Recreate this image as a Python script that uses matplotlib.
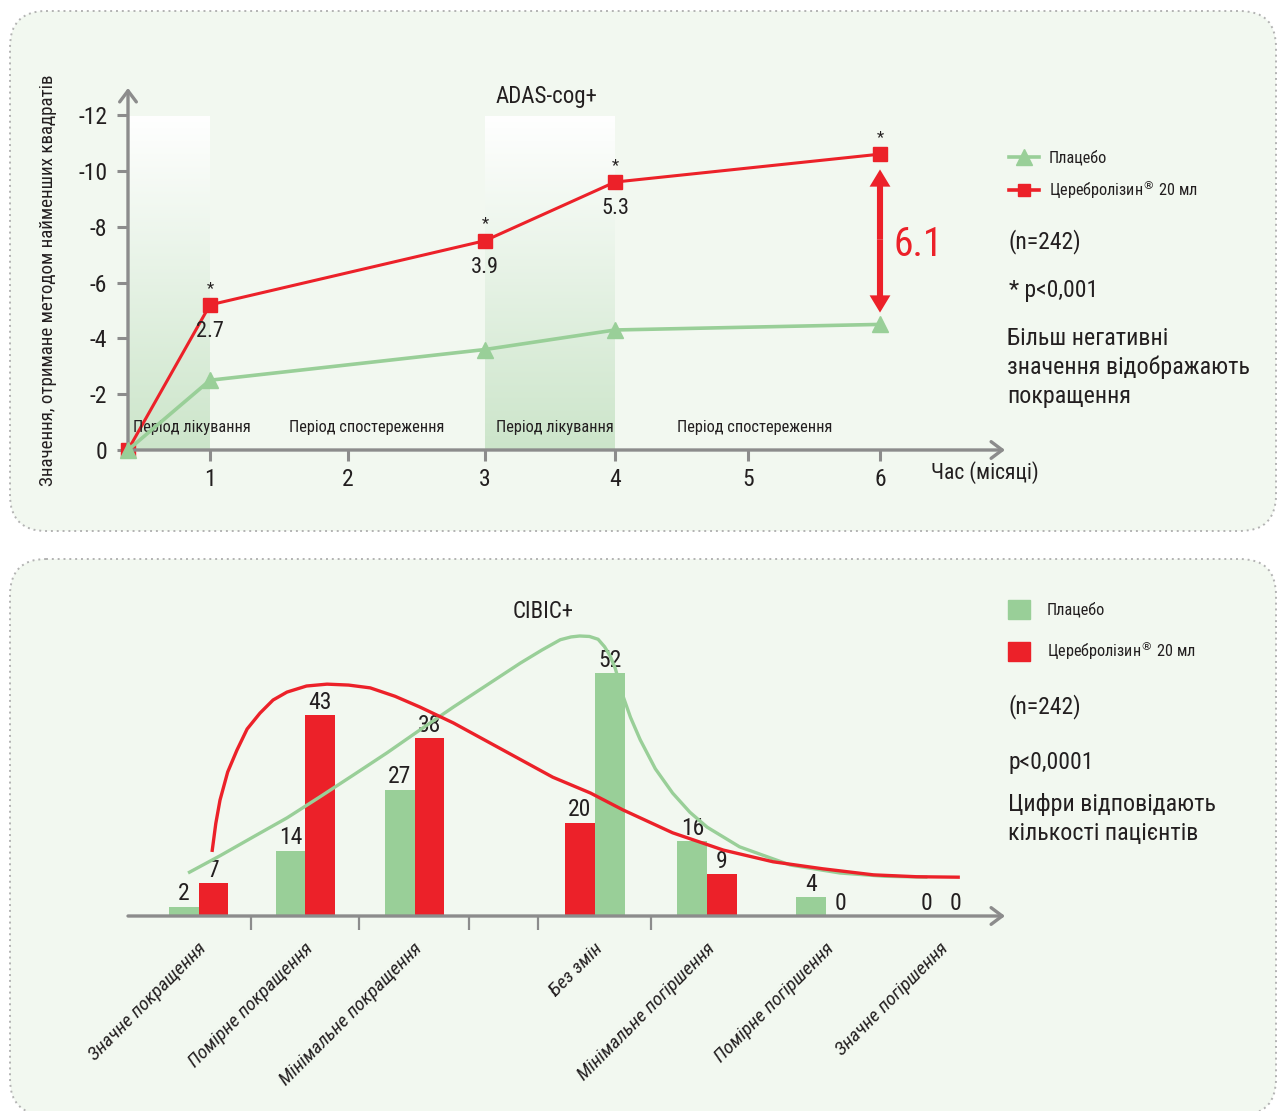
import numpy as np
import matplotlib
matplotlib.use('Agg')
import matplotlib.pyplot as plt
from matplotlib import font_manager as fm
from matplotlib.patches import FancyBboxPatch, Patch
from matplotlib.lines import Line2D
from matplotlib.colors import LinearSegmentedColormap

# вузький шрифт, якщо є; DejaVu Sans як запасний
installed = {f.name for f in fm.fontManager.ttflist}
families = [f for f in ['Roboto Condensed', 'Liberation Sans Narrow', 'Archivo Narrow'] if f in installed]
plt.rcParams['font.family'] = families + ['DejaVu Sans']
plt.rcParams['mathtext.fontset'] = 'dejavusans'

# --- ADAS-cog+ ---
months = [0, 1, 3, 4, 6]
placebo_adas = [0, -2.5, -3.6, -4.3, -4.5]
diff_adas = [0, 2.7, 3.9, 5.3, 6.1]          # різниця між групами
cerebro_adas = [p - d for p, d in zip(placebo_adas, diff_adas)]
signif = [False, True, True, True, True]
y_ticks = [0, -2, -4, -6, -8, -10, -12]
x_ticks = [1, 2, 3, 4, 5, 6]
treatment = [(0, 1), (3, 4)]
periods = [('Період лікування', 0.78), ('Період спостереження', 2.14),
           ('Період лікування', 3.54), ('Період спостереження', 5.05)]

# --- CIBIC+ ---
categories = ['Значне покращення', 'Помірне покращення', 'Мінімальне покращення', 'Без змін',
              'Мінімальне погіршення', 'Помірне погіршення', 'Значне погіршення']
placebo_cibic = [2, 14, 27, 52, 16, 4, 0]
cerebro_cibic = [7, 43, 38, 20, 9, 0, 0]

# тренд-криві (позиція групи, кількість)
red_curve_x = [0.125, 0.16, 0.199, 0.27, 0.356, 0.45, 0.569, 0.69, 0.819, 1.0, 1.19, 1.39, 1.59, 1.82,
               2.05, 2.36, 2.82, 3.28, 3.63, 3.93, 4.39, 4.86, 5.32, 5.78, 6.25, 6.65, 7.05]
red_curve_y = [13.7, 19.8, 24.8, 30.8, 35.5, 40.0, 43.4, 46.2, 47.9, 49.2, 49.6, 49.4, 48.8, 47.0,
               44.7, 41.3, 35.5, 29.7, 26.3, 22.7, 17.8, 14.1, 11.6, 10.1, 8.8, 8.4, 8.3]
green_curve_x = [-0.097, 0.2, 0.505, 0.82, 1.125, 1.43, 1.745, 2.05, 2.36, 2.67, 2.98, 3.18, 3.35,
                 3.45, 3.53, 3.62, 3.70, 3.76, 3.81, 3.86, 3.93, 4.0, 4.09, 4.23, 4.39, 4.55,
                 4.71, 5.01, 5.48, 5.94, 6.35, 6.75]
green_curve_y = [9.2, 12.9, 16.9, 21.0, 25.5, 30.1, 34.9, 39.8, 44.7, 49.4, 54.1, 56.9, 59.1,
                 59.7, 59.9, 59.8, 59.2, 57.6, 55.7, 52.9, 47.1, 42.5, 37.7, 31.5, 26.3, 22.2,
                 19.0, 14.8, 10.9, 9.2, 8.5, 8.3]

W, H = 1281, 1111
RED = '#ec2129'
GREEN = '#99cf98'
AXIS = '#8c8c8c'
TEXT = '#231f20'
PANEL = '#f2f8f0'


def fxy(x, y):
    return x / W, 1 - y / H


fig = plt.figure(figsize=(W / 100, H / 100), dpi=100)

# фонові панелі з пунктирною рамкою
bg = fig.add_axes([0, 0, 1, 1], zorder=-10)
bg.set_xlim(0, W)
bg.set_ylim(H, 0)
bg.axis('off')
for y0, h in [(11, 520), (559, 556)]:
    bg.add_patch(FancyBboxPatch((10, y0), 1266, h, boxstyle='round,pad=0,rounding_size=36',
                                facecolor=PANEL, edgecolor='#b3b3b3', lw=1.4,
                                linestyle=(0, (1, 2))))

# ---------------- верхній графік ----------------
# нерівномірна шкала часу: перший місяць коротший за решту
knot_m = [0, 1, 2, 3, 4, 5, 6, 7]
knot_u = [0, 0.82, 2.20, 3.57, 4.87, 6.20, 7.52, 8.84]


def fwd(m):
    return np.interp(m, knot_m, knot_u)


def inv(u):
    return np.interp(u, knot_u, knot_m)


ax1 = fig.add_axes([*fxy(128, 450), (1005 - 128) / W, (450 - 88) / H])
ax1.patch.set_visible(False)
ax1.set_xscale('function', functions=(fwd, inv))

shade = LinearSegmentedColormap.from_list('shade', ['#ffffff', '#cce5ca'])
grad = np.linspace(0, 1, 256).reshape(-1, 1)
for m0, m1 in treatment:
    ax1.imshow(grad, extent=(m0, m1, 0, -12), origin='upper', cmap=shade,
               aspect='auto', zorder=0, interpolation='bilinear')

ax1.set_xlim(0, inv(8.77))
ax1.set_ylim(0, -12.97)

ax1.plot(months, cerebro_adas, color=RED, lw=2.2, marker='s', ms=9.5, clip_on=False, zorder=3)
ax1.plot(months, placebo_adas, color=GREEN, lw=2.6, marker='^', ms=12, clip_on=False, zorder=4)

for m, r, d, s in zip(months, cerebro_adas, diff_adas, signif):
    if s:
        ax1.annotate('*', (m, r), xytext=(0, 12), textcoords='offset points',
                     ha='center', va='center', fontsize=12, color=TEXT)
    if s and m != months[-1]:
        ax1.annotate(f'{d:.1f}', (m, r), xytext=(0, -19), textcoords='offset points',
                     ha='center', va='center', fontsize=16, color=TEXT)

# подвійна стрілка з різницею на 6-му місяці
mid = (cerebro_adas[-1] + placebo_adas[-1]) / 2
arr = dict(arrowstyle='simple,head_length=0.62,head_width=0.75,tail_width=0.22',
           color=RED, lw=0, mutation_scale=20, shrinkA=0)
ax1.annotate('', xy=(months[-1], cerebro_adas[-1]), xytext=(months[-1], mid),
             arrowprops=dict(arr, shrinkB=11))
ax1.annotate('', xy=(months[-1], placebo_adas[-1]), xytext=(months[-1], mid),
             arrowprops=dict(arr, shrinkB=8.5))
ax1.annotate(f'{diff_adas[-1]:.1f}', (months[-1], mid), xytext=(10, -4), textcoords='offset points',
             ha='left', va='center', fontsize=28.5, color=RED)

for label, m in periods:
    ax1.text(m, -0.82, label, ha='center', va='center', fontsize=11.8, color=TEXT)

for s in ax1.spines.values():
    s.set_visible(False)
axis_arrow = dict(arrowstyle='->,head_length=0.4,head_width=0.3', color=AXIS, lw=2.4,
                  mutation_scale=20, shrinkA=0, shrinkB=0)
ax1.annotate('', xy=(1, 0), xytext=(0, 0), xycoords='axes fraction', arrowprops=axis_arrow)
ax1.annotate('', xy=(0, 1), xytext=(0, 0), xycoords='axes fraction', arrowprops=axis_arrow)

ax1.set_yticks(y_ticks)
ax1.set_yticklabels([str(v) for v in y_ticks])
ax1.set_xticks(x_ticks)
ax1.set_xticklabels([str(v) for v in x_ticks])
ax1.tick_params(axis='y', length=8, width=2.2, color=AXIS, labelsize=17, labelcolor=TEXT, pad=7)
ax1.tick_params(axis='x', length=8, width=2.2, color=AXIS, labelsize=17, labelcolor=TEXT, pad=5)

fig.text(*fxy(48, 280), 'Значення, отримане методом найменших квадратів', rotation=90,
         ha='center', va='center', fontsize=13.7, color=TEXT)
fig.text(*fxy(546, 96), 'ADAS-cog+', ha='center', va='center', fontsize=16.5, color=TEXT)
fig.text(*fxy(931, 473), 'Час (місяці)', ha='left', va='center', fontsize=15.6, color=TEXT)

reg = r'Церебролізин$^{\circledR}$ 20 мл'
fig.legend([Line2D([], [], color=GREEN, lw=2.6, marker='^', ms=11),
            Line2D([], [], color=RED, lw=2.6, marker='s', ms=9)],
           ['Плацебо', reg], loc='upper left', bbox_to_anchor=fxy(1009, 150),
           frameon=False, fontsize=11.7, handlelength=1.85, handletextpad=0.6,
           labelspacing=0.8, borderpad=0, borderaxespad=0, labelcolor=TEXT)

fig.text(*fxy(1009, 242), '(n=242)', ha='left', va='center', fontsize=17, color=TEXT)
fig.text(*fxy(1009, 290), '* p<0,001', ha='left', va='center', fontsize=17, color=TEXT)
for i, line in enumerate(['Більш негативні', 'значення відображають', 'покращення']):
    fig.text(*fxy(1007, 338 + 29.5 * i), line, ha='left', va='center', fontsize=17.3, color=TEXT)

# ---------------- нижній графік ----------------
group_x = np.array([0.0, 0.99, 2.0, 3.67, 4.71, 5.81, 6.875])
green_side = np.array([-1, -1, -1, 1, -1, -1, -1])
sep_ticks = [0.486, 1.486, 2.505, 3.14, 4.19]
bw = 0.275

ax2 = fig.add_axes([*fxy(128, 916), (1005 - 128) / W, (916 - 600) / H])
ax2.patch.set_visible(False)
ax2.set_xlim(-0.653, 7.468)
ax2.set_ylim(0, 67.6)

b_pl = ax2.bar(group_x + green_side * bw / 2, placebo_cibic, width=bw, color=GREEN, zorder=2)
b_ce = ax2.bar(group_x - green_side * bw / 2, cerebro_cibic, width=bw, color=RED, zorder=2)
ax2.bar_label(b_pl, padding=1, fontsize=17, color=TEXT)
ax2.bar_label(b_ce, padding=1, fontsize=17, color=TEXT)

ax2.plot(green_curve_x, green_curve_y, color=GREEN, lw=2.4, zorder=3, solid_capstyle='butt')
ax2.plot(red_curve_x, red_curve_y, color=RED, lw=2.4, zorder=4, solid_capstyle='butt')

for s in ax2.spines.values():
    s.set_visible(False)
ax2.annotate('', xy=(1, 0), xytext=(0, 0), xycoords='axes fraction', arrowprops=axis_arrow)
ax2.set_yticks([])
ax2.set_xticks(sep_ticks)
ax2.set_xticklabels([])
ax2.tick_params(axis='x', length=10, width=1.6, color=AXIS)

for x, cat in zip(group_x, categories):
    ax2.annotate(cat, (x, 0), xycoords=('data', 'axes fraction'), xytext=(-1, -17),
                 textcoords='offset points', rotation=45, rotation_mode='anchor',
                 ha='right', va='top', fontsize=14, style='italic', color=TEXT)

fig.text(*fxy(543, 612), 'CIBIC+', ha='center', va='center', fontsize=16.5, color=TEXT)

fig.legend([Patch(color=GREEN), Patch(color=RED)], ['Плацебо', reg],
           loc='upper left', bbox_to_anchor=fxy(1008, 600), frameon=False, fontsize=11.7,
           handlelength=1.38, handleheight=1.38, handletextpad=1.0, labelspacing=1.3,
           borderpad=0, borderaxespad=0, labelcolor=TEXT)

fig.text(*fxy(1009, 707), '(n=242)', ha='left', va='center', fontsize=17, color=TEXT)
fig.text(*fxy(1009, 762), 'p<0,0001', ha='left', va='center', fontsize=17, color=TEXT)
for i, line in enumerate(['Цифри відповідають', 'кількості пацієнтів']):
    fig.text(*fxy(1008, 804 + 29 * i), line, ha='left', va='center', fontsize=17.3, color=TEXT)

fig.savefig('out.png', dpi=100)
